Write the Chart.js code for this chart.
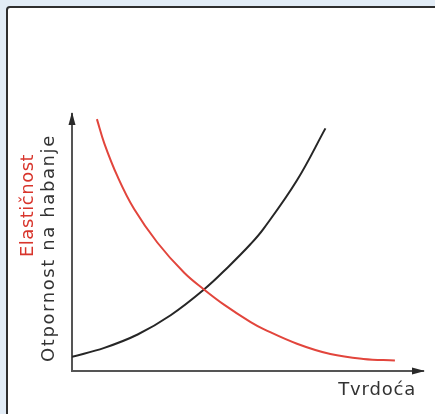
<!DOCTYPE html>
<html>
<head>
  <title>Tvrdoća</title>
  <script src="https://cdn.jsdelivr.net/npm/chart.js"></script>
  <style>
    html, body { margin: 0; padding: 0; }
    body { width: 435px; height: 414px; background: #e2ecf6; position: relative; overflow: hidden; }
    #box { position: absolute; left: 6px; top: 6px; width: 440px; height: 420px;
           background: #fff; border: 2px solid #2e2e2e; border-radius: 4px; }
    #chart { position: absolute; left: 0; top: 0; }
  </style>
</head>
<body>
  <div id="box"></div>
  <canvas id="chart" width="435" height="414"></canvas>
  <script>
    // Elastičnost (crvena) i otpornost na habanje (crna) u odnosu na tvrdoću
    const elasticX = [7.1, 9.2, 13.0, 17.7, 24.3, 31.9, 37.6, 43.3, 50.9, 54.6, 64.1, 73.6, 83.0, 92.0];
    const elasticY = [98.0, 88.6, 75.6, 63.0, 50.0, 38.3, 31.7, 25.8, 19.0, 16.3, 10.6, 6.6, 4.7, 4.1];
    const wearX = [0, 9.2, 18.7, 28.1, 37.6, 44.5, 50.9, 54.6, 64.1, 72.2];
    const wearY = [5.5, 9.0, 14.2, 21.7, 31.7, 40.5, 49.4, 55.4, 74.2, 94.4];
    const xLabel = 'Tvrdoća';
    const yLabel = 'Otpornost na habanje';
    const yLabel2 = 'Elastičnost';

    const pts = (xs, ys) => xs.map((x, i) => ({ x: x, y: ys[i] }));

    // strelice na osima i natpisi
    const axisDecor = {
      id: 'axisDecor',
      afterDraw(chart) {
        const c = chart.ctx;
        const a = chart.chartArea;
        c.save();
        c.fillStyle = '#2a2a2a';
        c.beginPath();
        c.moveTo(a.left, a.top - 2);
        c.lineTo(a.left - 3.5, a.top + 11);
        c.lineTo(a.left + 3.5, a.top + 11);
        c.closePath();
        c.fill();
        c.beginPath();
        c.moveTo(a.right + 2, a.bottom);
        c.lineTo(a.right - 11, a.bottom - 3.5);
        c.lineTo(a.right - 11, a.bottom + 3.5);
        c.closePath();
        c.fill();

        c.font = '18px "DejaVu Sans"';
        c.fillStyle = '#333';
        c.textAlign = 'right';
        c.textBaseline = 'middle';
        c.letterSpacing = '0.8px';
        c.fillText(xLabel, 416, 390);

        c.translate(49, 362);
        c.rotate(-Math.PI / 2);
        c.textAlign = 'left';
        c.letterSpacing = '1.6px';
        c.fillText(yLabel, 0, 0);
        c.fillStyle = '#d8352c';
        c.letterSpacing = '0.5px';
        c.fillText(yLabel2, 105, -21);
        c.restore();
      }
    };

    const ctx = document.getElementById('chart').getContext('2d');
    const chart = new Chart(ctx, {
      type: 'scatter',
      data: {
        datasets: [{
          label: yLabel2,
          data: pts(elasticX, elasticY),
          showLine: true,
          borderColor: '#e2453c',
          borderWidth: 2,
          pointRadius: 0,
          tension: 0.4
        }, {
          label: yLabel,
          data: pts(wearX, wearY),
          showLine: true,
          borderColor: '#262626',
          borderWidth: 2,
          pointRadius: 0,
          tension: 0.4
        }]
      },
      options: {
        responsive: false,
        animation: false,
        layout: { padding: { left: 64, top: 114, right: 12, bottom: 35 } },
        plugins: { legend: { display: false }, tooltip: { enabled: false } },
        scales: {
          x: {
            min: 0, max: 100,
            ticks: { display: false },
            grid: { display: false },
            border: { display: true, color: '#555', width: 2 }
          },
          y: {
            min: 0, max: 100,
            ticks: { display: false },
            grid: { display: false },
            border: { display: true, color: '#555', width: 2 }
          }
        }
      },
      plugins: [axisDecor]
    });
  </script>
</body>
</html>
